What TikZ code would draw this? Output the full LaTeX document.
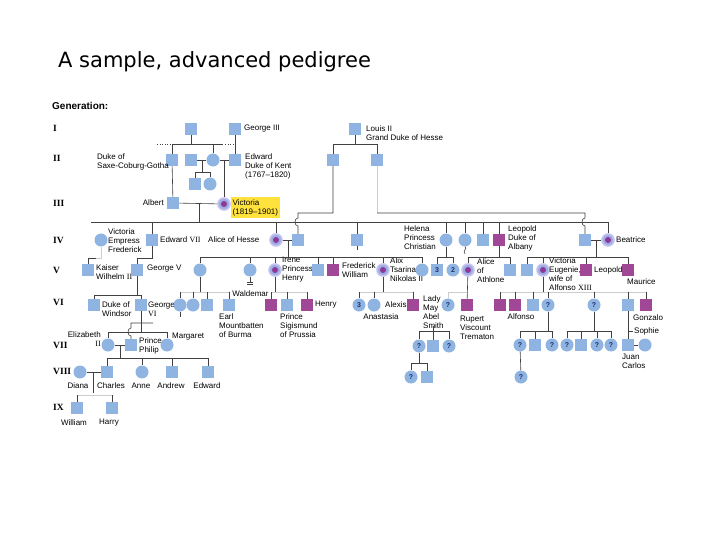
\documentclass[tikz,border=0pt]{standalone}
\usepackage{fontspec}
\setmainfont{Liberation Sans}
\newfontfamily\serifrm{Liberation Serif}
\newfontfamily\titlefont{DejaVu Sans}
\definecolor{blueC}{RGB}{143,180,226}
\definecolor{purpC}{RGB}{160,72,150}
\definecolor{carC}{RGB}{158,172,230}
\definecolor{ringC}{RGB}{196,196,238}
\definecolor{dotC}{RGB}{140,58,150}
\definecolor{lineC}{RGB}{65,65,65}
\definecolor{faintC}{RGB}{205,205,205}
\definecolor{navyC}{RGB}{30,45,110}
\definecolor{yelC}{RGB}{255,226,60}
\newcommand{\pedlabfont}{\fontsize{8}{9}\selectfont}
\begin{document}
\begin{tikzpicture}[x=1pt,y=-1pt,
  sq/.style={rectangle,fill=blueC,minimum size=12pt,inner sep=0pt},
  af/.style={rectangle,fill=purpC,minimum size=12pt,inner sep=0pt},
  ci/.style={circle,fill=blueC,minimum size=13pt,inner sep=0pt},
  cr/.style={circle,fill=carC,draw=ringC,line width=1.6pt,minimum size=12pt,inner sep=0pt,
     path picture={\fill[dotC] (path picture bounding box.center) circle (3pt);}},
  qmark/.style={font=\bfseries\fontsize{7}{7}\selectfont,text=navyC},
  lab/.style={font=\pedlabfont,inner sep=0pt,align=left,anchor=west,text=black},
  gen/.style={font=\serifrm\bfseries\fontsize{9.5}{10}\selectfont,inner sep=0pt,anchor=west},
  ln/.style={draw=lineC,line width=0.6pt},
  fl/.style={draw=faintC,line width=0.5pt},
]
\useasboundingbox (0,0) rectangle (720,540);
\fill[white] (0,0) rectangle (720,540);
% level coordinates
\coordinate (h144) at (0,144);
\coordinate (h172) at (0,172);
\coordinate (h213) at (0,213);
\coordinate (h222) at (0,222);
\coordinate (h257) at (0,257);
\coordinate (h258) at (0,258);
\coordinate (h292) at (0,292);
\coordinate (h295) at (0,295);
\coordinate (h331) at (0,331);
\coordinate (h332) at (0,332);
\coordinate (h358) at (0,358);
\coordinate (h363) at (0,363);
\coordinate (h395) at (0,395);

% title and generation labels
\node[anchor=base west,inner sep=0pt,font=\titlefont\fontsize{21}{24}\selectfont] (title) at (58,68) {A sample, advanced pedigree};
\node[anchor=west,inner sep=0pt,font=\bfseries\fontsize{10}{12}\selectfont] (genhd) at (52,106) {Generation:};
\node[gen] (gI) at (53,128) {I};
\node[gen] (gII) at (53,158) {II};
\node[gen] (gIII) at (53,203) {III};
\node[gen] (gIV) at (53,240) {IV};
\node[gen] (gV) at (53,270) {V};
\node[gen] (gVI) at (53,302) {VI};
\node[gen] (gVII) at (53,345) {VII};
\node[gen] (gVIII) at (53,371) {VIII};
\node[gen] (gIX) at (53,407) {IX};

% ---------- Generation I ----------
\node[sq] (f1) at (191,129) {};
\node[sq] (g3) at (235,129) {};
\node[lab] (g3l) at (244,129) {George III};
\node[sq] (lou) at (355,129) {};
\node[lab] (loul) at (366,133) {Louis II\\Grand Duke of Hesse};

% ---------- Generation II ----------
\node[sq] (saxe) at (172,160) {};
\node[lab] (saxel) at (97,162) {Duke of\\Saxe-Coburg-Gotha};
\node[sq] (lein) at (191,160) {};
\node[ci] (vmum) at (213,160) {};
\node[sq] (edw) at (235,160) {};
\node[lab] (edwl) at (245,166.5) {Edward\\Duke of Kent\\(1767--1820)};
\node[sq] (feo1) at (195,184) {};
\node[ci] (feo2) at (210,184) {};
\node[sq] (hes1) at (333,160) {};
\node[sq] (hes2) at (377,160) {};

% ---------- Generation III ----------
\node[sq] (albert) at (173,203) {};
\node[lab,anchor=east] (albertl) at (164,203) {Albert};
\node[cr] (vic) at (224,204) {};
\node[lab,fill=yelC,inner xsep=1.5pt,inner ysep=2pt] (vicl) at (231,207.5) {Victoria\\(1819--1901)};

% ---------- Generation IV ----------
\node[ci] (vicef) at (101,240) {};
\node[lab] (vicefl) at (108,241) {Victoria\\Empress\\Frederick};
\node[sq] (ed7) at (152,240) {};
\node[lab] (ed7l) at (160,240) {Edward {\serifrm VII}};
\node[lab] (alicel) at (208,240) {Alice of Hesse};
\node[cr] (alice) at (276,240) {};
\node[sq] (lou4) at (298,240) {};
\node[sq] (alfred) at (357,240) {};
\node[lab] (helenal) at (404,238) {Helena\\Princess\\Christian};
\node[ci] (helena) at (446,240) {};
\node[ci] (louise) at (465,240) {};
\node[sq] (arthur) at (483,240) {};
\node[af] (leopold) at (499,240) {};
\node[lab] (leopoldl) at (508,238) {Leopold\\Duke of\\Albany};
\node[sq] (henryb) at (585,240) {};
\node[cr] (beatrice) at (608,240) {};
\node[lab] (beatricel) at (616,240) {Beatrice};

% ---------- Generation V ----------
\node[sq] (kaiser) at (88,270) {};
\node[lab] (kaiserl) at (96,272.5) {Kaiser\\Wilhelm {\serifrm II}};
\node[sq] (geoV) at (137,270) {};
\node[lab] (geoVl) at (147,269) {George V};
\node[ci] (vich) at (200,270) {};
\node[ci] (ella) at (250,270) {};
\node[cr] (irene) at (275,270) {};
\node[lab] (irenel) at (282,269.5) {Irene\\Princess\\Henry};
\node[sq] (ernst) at (318,270) {};
\node[af] (fw) at (333,270) {};
\node[lab] (fwl) at (342,270.5) {Frederick\\William};
\node[cr] (alix) at (383,270) {};
\node[lab] (alixl) at (390,269.5) {Alix\\Tsarina\\Nikolas II};
\node[ci] (marie) at (422,270) {};
\node[sq,qmark] (hk3) at (437,270) {3};
\node[ci,qmark] (hk2) at (453,270) {2};
\node[cr] (aliceA) at (468,270) {};
\node[lab] (aliceAl) at (477,270.5) {Alice\\of\\Athlone};
\node[sq] (charlesE) at (510,270) {};
\node[sq] (alexC) at (527,270) {};
\node[cr] (vicEu) at (543,270) {};
\node[lab] (vicEul) at (549,274) {Victoria\\Eugenie,\\wife of\\Alfonso {\serifrm XIII}};
\node[af] (leopB) at (586,270) {};
\node[lab] (leopBl) at (594,270) {Leopold};
\node[af] (maurice) at (628,270) {};
\node[lab] (mauricel) at (627,282) {Maurice};

% ---------- Generation VI ----------
\node[sq] (dow) at (94,305) {};
\node[lab] (dowl) at (102,309) {Duke of\\Windsor};
\node[sq] (geoVI) at (141,305) {};
\node[lab] (geoVIl) at (148,309) {George\\{\serifrm VI}};
\node[ci] (vh1) at (180,305) {};
\node[ci] (vh2) at (193,305) {};
\node[sq] (vh3) at (207,305) {};
\node[sq] (mount) at (229,305) {};
\node[lab] (mountl) at (219,326) {Earl\\Mountbatten\\of Burma};
\node[af] (wald) at (271,305) {};
\node[lab,anchor=center] (waldl) at (250.5,294) {Waldemar};
\node[sq] (sigis) at (287,305) {};
\node[lab] (sigisl) at (280,326) {Prince\\Sigismund\\of Prussia};
\node[af] (henryP) at (307,305) {};
\node[lab] (henryPl) at (315,305) {Henry};
\node[ci,qmark] (ak3) at (359,305) {3};
\node[ci] (anast) at (374,305) {};
\node[lab,anchor=center] (anastl) at (381,317) {Anastasia};
\node[lab] (alexisl) at (385,305) {Alexis};
\node[af] (alexis) at (413,305) {};
\node[lab] (ladyl) at (423,312.5) {Lady\\May\\Abel\\Smith};
\node[ci,qmark] (lady) at (448,305) {?};
\node[af] (rupert) at (467,305) {};
\node[lab] (rupertl) at (460,327.5) {Rupert\\Viscount\\Trematon};
\node[af] (alfonso) at (500,305) {};
\node[af] (gonz1) at (515,305) {};
\node[sq] (jaime) at (533,305) {};
\node[lab,anchor=center] (alfonsol) at (521,317) {Alfonso};
\node[ci,qmark] (beatriz) at (548,305) {?};
\node[ci,qmark] (mariac) at (594,305) {?};
\node[sq] (juan) at (628,305) {};
\node[af] (gonzalo) at (646,305) {};
\node[lab] (gonzalol) at (633,318) {Gonzalo};

% ---------- Generation VII ----------
\node[ci] (eliz) at (108,345) {};
\node[lab,anchor=east,align=right] (elizl) at (101,339.5) {Elizabeth\\{\serifrm II}};
\node[sq] (philip) at (131,345) {};
\node[lab] (philipl) at (139,346) {Prince\\Philip};
\node[ci] (marg) at (167,345) {};
\node[lab] (margl) at (172,337) {Margaret};
\node[ci,qmark] (lm1) at (419,346) {?};
\node[sq] (lm2) at (433,346) {};
\node[ci,qmark] (lm3) at (449,346) {?};
\node[ci,qmark] (b1) at (520,345) {?};
\node[sq] (b2) at (535,345) {};
\node[ci,qmark] (b3) at (552,345) {?};
\node[ci,qmark] (m1) at (567,345) {?};
\node[sq] (m2) at (581,345) {};
\node[ci,qmark] (m3) at (597,345) {?};
\node[ci,qmark] (m4) at (611,345) {?};
\node[sq] (jc) at (628,345) {};
\node[ci] (sophie) at (645,345) {};
\node[lab] (sophiel) at (634,331) {Sophie};
\node[lab] (jcl) at (622,361.5) {Juan\\Carlos};

% ---------- Generation VIII ----------
\node[ci] (diana) at (80,372) {};
\node[sq] (charles) at (107,372) {};
\node[ci] (anne) at (142,372) {};
\node[sq] (andrew) at (172,372) {};
\node[sq] (edwardP) at (208,372) {};
\node[lab,anchor=center] (dianal) at (78,386) {Diana};
\node[lab,anchor=center] (charlesl) at (111,386) {Charles};
\node[lab,anchor=center] (annel) at (141,386) {Anne};
\node[lab,anchor=center] (andrewl) at (171,386) {Andrew};
\node[lab,anchor=center] (edwardl) at (207,386) {Edward};
\node[ci,qmark] (lmc1) at (411,377) {?};
\node[sq] (lmc2) at (427,377) {};
\node[ci,qmark] (bb1) at (521,377) {?};

% ---------- Generation IX ----------
\node[sq] (william) at (77,408) {};
\node[sq] (harry) at (112,408) {};
\node[lab,anchor=center] (williaml) at (74,423) {William};
\node[lab,anchor=center] (harryl) at (109,423) {Harry};

% ================= connectors =================
% Gen I -> II
\draw[ln] (f1) -- (f1 |- h144);
\draw[ln,dotted] (157,144) -- (171,144);
\draw[ln] (saxe |- h144) -- (223,144);
\draw[ln,dotted] (225,144) -- (233,144);
\draw[ln] (saxe |- h144) -- (saxe);
\draw[ln] (vmum |- h144) -- (vmum);
\draw[ln] (g3) -- (edw);
\draw[ln] (lou) -- (lou |- h144);
\draw[ln] (hes1 |- h144) -- (hes2 |- h144);
\draw[ln] (hes1 |- h144) -- (hes1);
\draw[ln] (hes2 |- h144) -- (hes2);
% Gen II marriages
\draw[ln] (lein) -- (vmum);
\draw[ln] (vmum) -- (edw);
\coordinate (lvm) at (202,160);
\draw[ln] (lvm) -- (lvm |- h172);
\draw[ln] (feo1 |- h172) -- (feo2 |- h172);
\draw[ln] (feo1 |- h172) -- (feo1);
\draw[ln] (feo2 |- h172) -- (feo2);
\coordinate (vme) at (224,160);
\draw[ln] (vme) -- (vic);
\draw[ln] (saxe) -- (albert);
% Gen III
\draw[ln] (albert) -- (vic);
\coordinate (avm) at (199,203.5);
\draw[ln] (avm) -- (avm |- h222);
\coordinate (s3L) at (91,222);
\draw[ln] (s3L) -- (beatrice |- h222);
\draw[ln] (ed7 |- h222) -- (ed7);
\draw[ln] (alice |- h222) -- (alice);
\draw[ln] (alfred |- h222) -- (alfred);
\draw[ln] (alfred.south) -- ++(0,4);
\draw[ln] (helena |- h222) -- (helena);
\draw[ln] (louise |- h222) -- (louise);
\draw[ln] (arthur |- h222) -- (arthur);
\draw[ln] (leopold |- h222) -- (leopold);
\draw[ln] (beatrice |- h222) -- (beatrice);
% Hesse lines with hops
\draw[ln] (hes1) -- (hes1 |- h213) -- (298,213) -- (298,218) .. controls (294,218) and (294,226) .. (298,226) -- (lou4);
\draw[fl] (hes2) -- (hes2 |- h213);
\draw[ln] (hes2 |- h213) -- (585,213) -- (585,218) .. controls (581,218) and (581,226) .. (585,226) -- (henryb);
% Gen IV -> V
\coordinate (kai1) at (96,258);
\draw[ln] (kaiser) -- (kaiser |- h258) -- (kai1);
\draw[fl] (kai1) -- (vicef |- h258) -- (vicef);
\draw[ln] (ed7) -- (ed7 |- h258) -- (geoV |- h258) -- (geoV);
\draw[ln] (alice) -- (lou4);
\coordinate (al4m) at (288,240);
\draw[ln] (al4m) -- (al4m |- h257);
\draw[ln] (vich |- h257) -- (marie |- h257);
\foreach \k in {vich,ella,irene,ernst,fw,alix,marie} \draw[ln] (\k |- h257) -- (\k);
\draw[ln] (ella.south) -- ++(0,5.5);
\draw[ln] (247,282.5) -- (253,282.5);
\draw[ln] (247,284.5) -- (253,284.5);
\draw[ln] (helena) -- (helena |- h257);
\draw[ln] (hk3 |- h257) -- (hk2 |- h257);
\draw[ln] (hk3 |- h257) -- (hk3);
\draw[ln] (hk2 |- h257) -- (hk2);
\draw[ln] (louise.south) .. controls (468,249) and (462,250) .. (465,254);
\draw[ln] (leopold) -- (leopold |- h257);
\draw[ln] (aliceA |- h257) -- (charlesE |- h257);
\draw[ln] (aliceA |- h257) -- (aliceA);
\draw[ln] (charlesE |- h257) -- (charlesE);
\draw[ln] (henryb) -- (beatrice);
\coordinate (hbm) at (596,240);
\draw[ln] (hbm) -- (hbm |- h257);
\draw[ln] (alexC |- h257) -- (maurice |- h257);
\foreach \k in {alexC,vicEu,leopB,maurice} \draw[ln] (\k |- h257) -- (\k);
% Gen V -> VI
\draw[ln] (geoV) -- (geoV |- h295);
\draw[ln] (dow |- h295) -- (geoVI |- h295);
\draw[ln] (dow |- h295) -- (dow);
\draw[ln] (geoVI |- h295) -- (geoVI);
\draw[ln] (vich) -- (vich |- h292);
\draw[fl] (vh1 |- h292) -- (mount |- h292);
\foreach \k in {vh1,vh2,vh3,mount} \draw[ln] (\k |- h292) -- (\k);
\draw[ln] (vh1.south) -- ++(0,5);
\draw[ln] (irene) -- (irene |- h292);
\draw[fl] (wald |- h292) -- (henryP |- h292);
\foreach \k in {wald,sigis,henryP} \draw[ln] (\k |- h292) -- (\k);
\draw[ln] (alix) -- (alix |- h292);
\draw[fl] (ak3 |- h292) -- (alexis |- h292);
\foreach \k in {ak3,anast,alexis} \draw[ln] (\k |- h292) -- (\k);
\draw[ln] (aliceA) -- (rupert);
\draw[fl] (lady) -- (lady |- h292) -- (rupert |- h292);
\draw[ln] (vicEu) -- (vicEu |- h292);
\draw[fl] (alfonso |- h292) -- (gonzalo |- h292);
\foreach \k in {alfonso,gonz1,jaime,beatriz,mariac,juan,gonzalo} \draw[ln] (\k |- h292) -- (\k);
% Gen VI -> VII
\draw[ln] (geoVI) -- (geoVI |- h332);
\draw[ln] (eliz |- h332) -- (marg |- h332);
\draw[ln] (eliz |- h332) -- (eliz);
\draw[ln] (marg |- h332) -- (marg);
\coordinate (phA) at (153,323);
\draw[ln] (phA) -- (131,323) -- (131,328) .. controls (127,328) and (127,336) .. (131,336) -- (philip);
\draw[ln] (lm1 |- h331) -- (lm3 |- h331);
\draw[ln] (433,326) -- (433,331);
\foreach \k in {lm1,lm2,lm3} \draw[ln] (\k |- h331) -- (\k);
\draw[ln] (beatriz) -- (beatriz |- h331);
\draw[ln] (b1 |- h331) -- (b3 |- h331);
\foreach \k in {b1,b2,b3} \draw[ln] (\k |- h331) -- (\k);
\draw[ln] (mariac) -- (mariac |- h331);
\draw[ln] (m1 |- h331) -- (m4 |- h331);
\foreach \k in {m1,m2,m3,m4} \draw[ln] (\k |- h331) -- (\k);
\draw[ln] (juan) -- (jc);
\coordinate (soph1) at (633,331);
\draw[ln] (juan |- h331) -- (soph1);
\draw[ln] (jc) -- (sophie);
% Gen VII -> VIII
\draw[ln] (eliz) -- (philip);
\coordinate (epm) at (120,345);
\draw[ln] (epm) -- (epm |- h358);
\draw[ln] (charles |- h358) -- (edwardP |- h358);
\foreach \k in {charles,anne,andrew,edwardP} \draw[ln] (\k |- h358) -- (\k);
\draw[ln] (lm1) -- (lm1 |- h363);
\draw[ln] (lmc1 |- h363) -- (lmc2 |- h363);
\draw[ln] (lmc1 |- h363) -- (lmc1);
\draw[ln] (lmc2 |- h363) -- (lmc2);
\draw[ln] (b1) -- (bb1);
% Gen VIII -> IX
\draw[ln] (diana) -- (charles);
\coordinate (dcm) at (93,372);
\draw[ln] (dcm) -- (93,393);
\draw[fl] (william |- h395) -- (harry |- h395);
\draw[ln] (william |- h395) -- (william);
\draw[ln] (harry |- h395) -- (harry);
\end{tikzpicture}
\end{document}
